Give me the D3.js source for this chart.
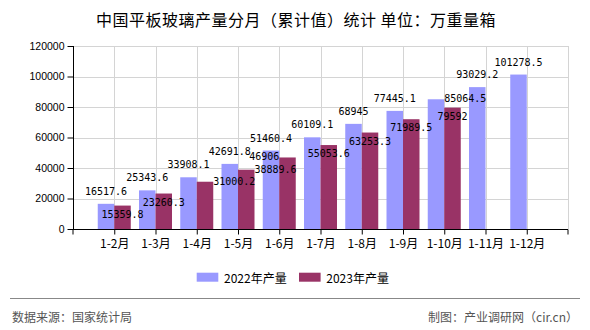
<!DOCTYPE html>
<html><head><meta charset="utf-8">
<script src="https://cdn.jsdelivr.net/npm/d3@7/dist/d3.min.js"></script>
<style>
html,body{margin:0;padding:0;background:#fff;}
svg{display:block;}
</style>
</head><body>
<svg id="chart" width="590" height="330"></svg>
<script>
const title = "中国平板玻璃产量分月（累计值）统计 单位：万重量箱";
const categories = ["1-2月","1-3月","1-4月","1-5月","1-6月","1-7月","1-8月","1-9月","1-10月","1-11月","1-12月"];
const seriesNames = ["2022年产量","2023年产量"];
const values2022 = [16517.6,25343.6,33908.1,42691.8,51460.4,60109.1,68945,77445.1,85064.5,93029.2,101278.5];
const values2023 = [15359.8,23260.3,31000.2,38889.6,46906,55053.6,63253.3,71989.5,79592,null,null];
const yTicks = [0,20000,40000,60000,80000,100000,120000];
const source = "数据来源：国家统计局";
const credit = "制图：产业调研网（cir.cn）";

const colors = ["#9999FF","#993366"];
// label placement exceptions (collision avoidance as in the original)
const placement = {"0|8":"right","1|2":"right","1|3":"right","1|4":"left"};

const svg = d3.select("#chart");
svg.append("rect").attr("width",590).attr("height",330).attr("fill","#fff");

const pL = 73, pR = 568, pT = 46, pB = 229;
const x = d3.scalePoint().domain(categories).range([pL,pR]).padding(1);
const step = x.step();
const y = d3.scaleLinear().domain([0,120000]).range([pB,pT]);
const bw = step*0.4;

// title
svg.append("text").attr("x",296).attr("y",26).attr("text-anchor","middle")
  .attr("font-family","'Noto Sans CJK SC'").attr("font-size",16).attr("letter-spacing","0.5px")
  .attr("fill","#000").text(title);

// grid
const g = svg.append("g");
g.selectAll("line.hg").data(yTicks.slice(1)).enter().append("line")
  .attr("x1",pL).attr("x2",pR).attr("y1",d=>Math.round(y(d))+0.5).attr("y2",d=>Math.round(y(d))+0.5)
  .attr("stroke","#d4d4d4").attr("stroke-width",1);
const vpos = categories.map(c=>x(c)).concat([pR]);
g.selectAll("line.vg").data(vpos).enter().append("line")
  .attr("x1",d=>Math.round(d)+0.5).attr("x2",d=>Math.round(d)+0.5).attr("y1",pT).attr("y2",pB)
  .attr("stroke","#d4d4d4").attr("stroke-width",1);

// bars
const series = [values2022, values2023];
series.forEach((vals,si)=>{
  svg.append("g").selectAll("rect").data(vals.map((v,i)=>({v,i})).filter(d=>d.v!=null)).enter().append("rect")
    .attr("x",d=>x(categories[d.i]) + (si===0 ? -bw : 0))
    .attr("width",bw)
    .attr("y",d=>y(d.v))
    .attr("height",d=>pB-y(d.v))
    .attr("fill",colors[si]);
});

// axes
const yAxis = svg.append("g").attr("transform",`translate(${pL+0.5},0)`)
  .call(d3.axisLeft(y).tickValues(yTicks).tickSize(6).tickPadding(3).tickFormat(d3.format("d")));
yAxis.select(".domain").attr("stroke","#000").attr("d",`M0,${pT}V${pB}`);
yAxis.selectAll(".tick line").attr("stroke","#000");
yAxis.selectAll("text").attr("font-family","'Liberation Sans'").attr("font-size",10.5).attr("fill","#000");

const xAxis = svg.append("g").attr("transform",`translate(0,${pB+0.5})`)
  .call(d3.axisBottom(x).tickSize(5).tickPadding(3).tickSizeOuter(5));
xAxis.select(".domain").attr("stroke","#000").attr("d",`M${pL},5V0H${pR}V5`);
xAxis.selectAll(".tick line").attr("stroke","#000");
xAxis.selectAll("text").attr("font-family","'Noto Sans CJK SC'").attr("font-size",12).attr("fill","#000").attr("dy","0.9em");

// data labels
const lab = svg.append("g").attr("font-family","'DejaVu Sans Mono'").attr("font-size",10).attr("fill","#000");
series.forEach((vals,si)=>{
  vals.forEach((v,i)=>{
    if(v==null) return;
    const cx = x(categories[i]);
    const bl = si===0 ? cx-bw : cx, br = bl+bw;
    const ty = y(v);
    const p = placement[si+"|"+i];
    let tx, yy, anchor;
    if(p==="right"){ tx=br; yy=ty+3; anchor="start"; }
    else if(p==="left"){ tx=bl; yy=ty+3; anchor="end"; }
    else { tx=(bl+br)/2; yy= si===0 ? ty-9 : ty+12; anchor="middle"; }
    lab.append("text").attr("x",tx).attr("y",yy).attr("text-anchor",anchor).text(String(v));
  });
});

// legend
const legX = [196.7, 299];
seriesNames.forEach((n,i)=>{
  svg.append("rect").attr("x",legX[i]).attr("y",272.7).attr("width",21.6).attr("height",9).attr("fill",colors[i]);
  svg.append("text").attr("x",legX[i]+27.3).attr("y",282.5).attr("font-family","'Noto Sans CJK SC'")
    .attr("font-size",12).attr("fill","#000").text(n);
});

// footer
svg.append("line").attr("x1",10).attr("x2",580).attr("y1",298.5).attr("y2",298.5).attr("stroke","#888").attr("stroke-width",1);
svg.append("text").attr("x",12).attr("y",321.5).attr("font-family","'Noto Sans CJK SC'").attr("font-size",12).attr("fill","#555").text(source);
svg.append("text").attr("x",578).attr("y",321.5).attr("text-anchor","end").attr("font-family","'Noto Sans CJK SC'").attr("font-size",12).attr("fill","#555").text(credit);
</script>
</body></html>
